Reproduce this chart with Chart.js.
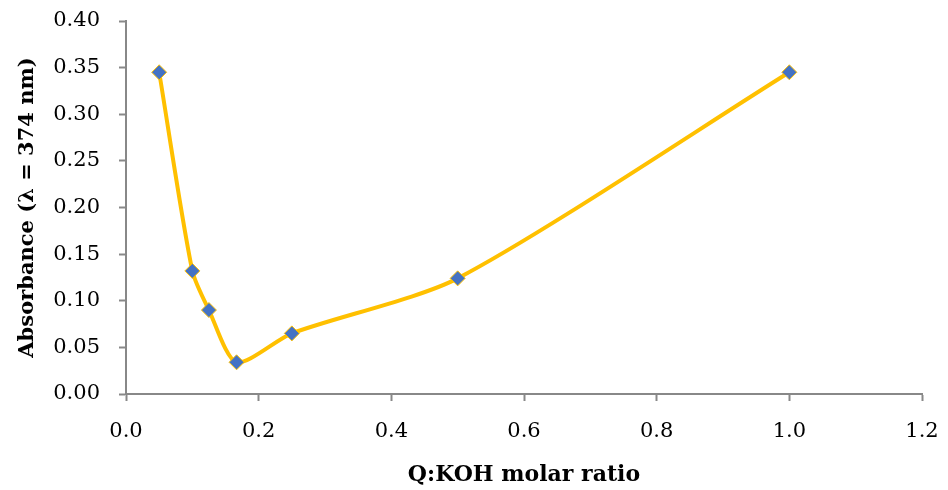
<!DOCTYPE html>
<html>
<head>
<meta charset="utf-8">
<script src="https://cdn.jsdelivr.net/npm/chart.js@4"></script>
<style>
  html, body { margin: 0; padding: 0; background: #fff; }
  #wrap { width: 948px; height: 490px; }
</style>
</head>
<body>
<div id="wrap"><canvas id="c" width="948" height="490"></canvas></div>
<script>
// Q:KOH molar ratio vs absorbance at 374 nm
const molarRatio = [0.05, 0.1, 0.125, 0.1667, 0.25, 0.5, 1.0];
const absorbance = [0.345, 0.132, 0.090, 0.034, 0.065, 0.124, 0.345];
const xTicks = [0.0, 0.2, 0.4, 0.6, 0.8, 1.0, 1.2];
const yTicks = [0.00, 0.05, 0.10, 0.15, 0.20, 0.25, 0.30, 0.35, 0.40];

const points = molarRatio.map((x, i) => ({ x, y: absorbance[i] }));
const serif = "'DejaVu Serif', 'Liberation Serif', serif";
const axisGrey = '#888888';

const axisGrid = {
  display: true,
  drawOnChartArea: false,
  drawTicks: true,
  tickLength: 7,
  tickWidth: 2,
  tickColor: axisGrey
};

// fixed axis boxes, no extra room reserved for edge labels
function fixX(s) {
  s.height = 94;
  s.paddingLeft = 0; s.paddingRight = 0;
}
function fixY(s) {
  s.width = 111;
  s.paddingTop = 0; s.paddingBottom = 0;
}

new Chart(document.getElementById('c'), {
  type: 'scatter',
  data: {
    datasets: [{
      data: points,
      showLine: true,
      borderColor: '#FFC000',
      borderWidth: 4,
      tension: 0.25,
      pointStyle: 'rectRot',
      pointRadius: 7.5,
      pointBackgroundColor: '#4472C4',
      pointBorderColor: '#FFC000',
      pointBorderWidth: 1,
      fill: false
    }]
  },
  options: {
    responsive: false,
    animation: false,
    layout: { padding: { top: 21, right: 26, bottom: 2, left: 15 } },
    plugins: { legend: { display: false }, tooltip: { enabled: false } },
    scales: {
      x: {
        type: 'linear',
        min: 0, max: 1.2,
        afterBuildTicks: s => { s.ticks = xTicks.map(v => ({ value: v })); },
        afterFit: fixX,
        grid: axisGrid,
        border: { display: true, color: axisGrey, width: 2 },
        ticks: {
          color: '#000', padding: 18,
          font: { family: serif, size: 21 },
          callback: v => v.toFixed(1)
        },
        title: {
          display: true, text: 'Q:KOH molar ratio', color: '#000',
          font: { family: serif, size: 22, weight: 'bold' },
          padding: { top: 0, bottom: 0 }
        }
      },
      y: {
        type: 'linear',
        min: 0, max: 0.4,
        afterBuildTicks: s => { s.ticks = yTicks.map(v => ({ value: v })); },
        afterFit: fixY,
        grid: axisGrid,
        border: { display: true, color: axisGrey, width: 2 },
        ticks: {
          color: '#000', padding: 19,
          font: { family: serif, size: 21 },
          callback: v => v.toFixed(2)
        },
        title: {
          display: true, text: 'Absorbance (λ = 374 nm)', color: '#000',
          font: { family: serif, size: 21, weight: 'bold' },
          padding: { top: 0, bottom: 0 }
        }
      }
    }
  }
});
</script>
</body>
</html>
